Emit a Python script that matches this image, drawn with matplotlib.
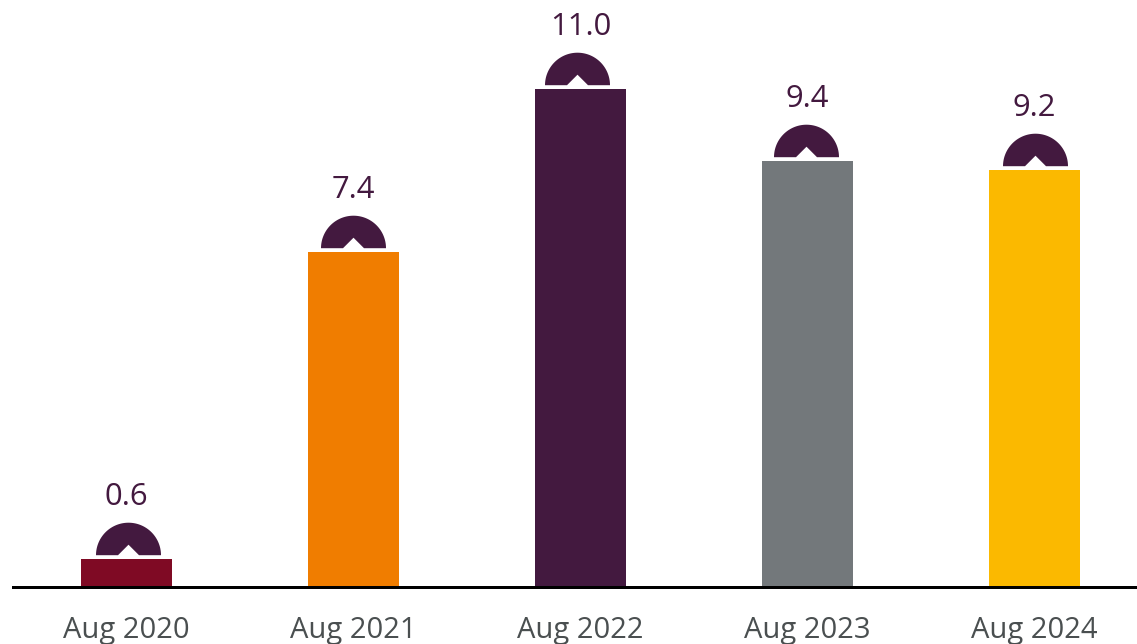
#!/usr/bin/env python3
# -*- coding: utf-8 -*-
import numpy as np
import matplotlib
matplotlib.use('Agg')
import matplotlib.pyplot as plt
from matplotlib.path import Path

# Data
months = ['Aug 2020', 'Aug 2021', 'Aug 2022', 'Aug 2023', 'Aug 2024']
values = [0.6, 7.4, 11.0, 9.4, 9.2]
labels = ['0.6', '7.4', '11.0', '9.4', '9.2']

# Styles
bar_colors = ['#7F0A24', '#F07D00', '#43193F', '#73787B', '#FBB900']
cap_shift_px = [1.3, -0.7, -3.4, -1.7, 0.3]
purple = '#43193F'
grey = '#4A4F50'

plt.rcParams['font.family'] = ['Open Sans', 'DejaVu Sans']

W, H, DPI = 1137, 644, 100
BASE_PX = 586.5      # pixel row of the baseline
PX_PER_UNIT = 45.25
STEP_PX = 227.0      # distance between bars
FIRST_PX = 126.5     # centre of the first bar


def cap_marker():
    # half disc sitting above the bar, with a white notch cut in its flat side
    r, lift = 32.5, 4.3
    t = np.linspace(np.pi, 0, 61)
    arc = np.column_stack([r*np.cos(t), lift + r*np.sin(t)])
    notch = np.array([[10.5, lift], [0.0, lift + 10.5], [-10.5, lift], [-r, lift]])
    verts = np.vstack([arc, notch])
    codes = [Path.MOVETO] + [Path.LINETO]*(len(verts)-2) + [Path.CLOSEPOLY]
    return Path(verts, codes), 2*np.abs(verts).max()*72/DPI


fig = plt.figure(figsize=(W/DPI, H/DPI), dpi=DPI)
ax = fig.add_axes([0, (H-BASE_PX)/H, 1, BASE_PX/H])
ax.set_xlim(-FIRST_PX/STEP_PX, (W-FIRST_PX)/STEP_PX)
ax.set_ylim(0, BASE_PX/PX_PER_UNIT)

x = np.arange(len(values))
ax.bar(x, values, width=91/STEP_PX, color=bar_colors, zorder=2)

cap, cap_size = cap_marker()
for xi, v, dx, lab in zip(x, values, cap_shift_px, labels):
    ax.plot([xi + dx/STEP_PX], [v], ls='none', marker=cap, ms=cap_size,
            mfc=purple, mec='none', zorder=3)
    ax.annotate(lab, (xi, v), xytext=(0, 62*72/DPI), textcoords='offset points',
                ha='center', va='center', color=purple, fontsize=22.3)

ax.set_xticks(x)
ax.set_xticklabels(months, fontsize=21, color=grey)
ax.tick_params(axis='x', length=0, pad=21)
ax.set_yticks([])

for s in ['top', 'left', 'right']:
    ax.spines[s].set_visible(False)
ax.spines['bottom'].set_linewidth(3*72/DPI)
ax.spines['bottom'].set_color('black')
ax.spines['bottom'].set_bounds((13-FIRST_PX)/STEP_PX, (W-FIRST_PX)/STEP_PX)
ax.spines['bottom'].set_zorder(4)

fig.savefig('out.png', dpi=DPI)
